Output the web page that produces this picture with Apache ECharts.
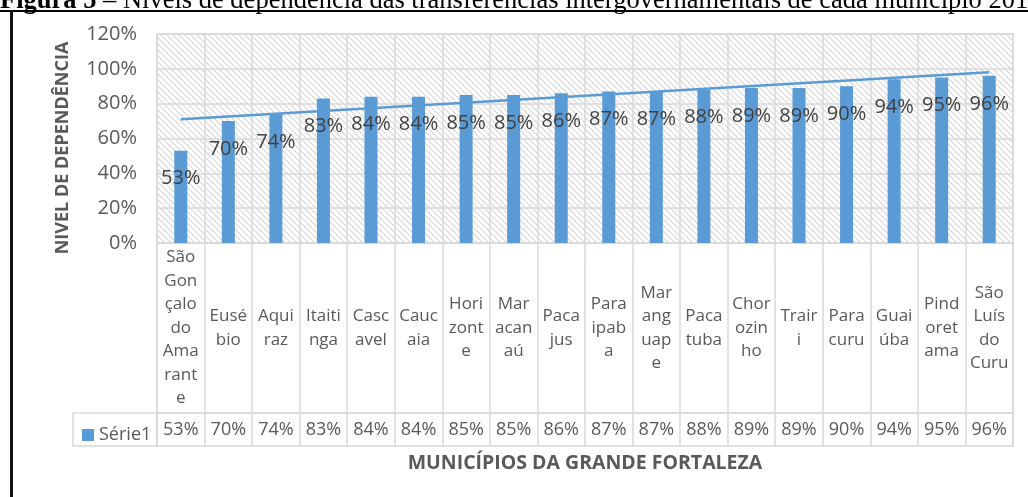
<!DOCTYPE html>
<html lang="pt-BR" style="height: 100%">

<head>
  <meta charset="utf-8">
</head>

<body style="height: 100%; margin: 0; background: #fff">
  <div id="container" style="width: 1028px; height: 497px"></div>

  <script type="text/javascript" src="https://cdn.jsdelivr.net/npm/echarts@6/dist/echarts.min.js"></script>

  <script type="text/javascript">
    // municípios (rótulos já quebrados como na tabela do Excel)
    var municipios = [
      'São\nGon\nçalo\ndo\nAma\nrant\ne', 'Eusé\nbio', 'Aqui\nraz', 'Itaiti\nnga', 'Casc\navel',
      'Cauc\naia', 'Hori\nzont\ne', 'Mar\nacan\naú', 'Paca\njus', 'Para\nipab\na',
      'Mar\nang\nuap\ne', 'Paca\ntuba', 'Chor\nozin\nho', 'Trair\ni', 'Para\ncuru',
      'Guai\núba', 'Pind\noret\nama', 'São\nLuís\ndo\nCuru'
    ];
    // nível de dependência (%)
    var serie1 = [53, 70, 74, 83, 84, 84, 85, 85, 86, 87, 87, 88, 89, 89, 90, 94, 95, 96];
    // linha de tendência (início e fim)
    var tendencia = [71, null, null, null, null, null, null, null, null, null, null, null, null, null, null, null, null, 98];
    var yTicks = [0, 20, 40, 60, 80, 100, 120];

    var font = '"Open Sans", "Noto Sans", sans-serif';
    var gray = '#595959';
    var lineGray = '#d9d9d9';

    // textura listrada do fundo
    var tile = document.createElement('canvas');
    tile.width = 6;
    tile.height = 6;
    var ctx = tile.getContext('2d');
    ctx.fillStyle = '#ffffff';
    ctx.fillRect(0, 0, 6, 6);
    ctx.strokeStyle = '#d6d6d6';
    ctx.lineWidth = 1.2;
    [-6, 0, 6].forEach(function (k) {
      ctx.beginPath();
      ctx.moveTo(k, 0);
      ctx.lineTo(k + 6, 6);
      ctx.stroke();
    });

    var dom = document.getElementById('container');
    var myChart = echarts.init(dom, null, { renderer: 'canvas' });

    var L = 157, R = 15;

    var option = {
      animation: false,
      textStyle: { fontFamily: font },
      graphic: [
        {
          type: 'text', left: 0, top: -12,
          style: {
            text: '{b|Figura 5} – Níveis de dependência das transferências intergovernamentais de cada município 2016',
            font: '26.5px "Liberation Serif", serif', fill: '#000',
            rich: { b: { font: 'bold 26.5px "Liberation Serif", serif', fill: '#000' } }
          }
        },
        { type: 'rect', shape: { x: 0, y: 10, width: 1028, height: 2 }, style: { fill: '#000' } },
        { type: 'rect', shape: { x: 10, y: 10, width: 3, height: 487 }, style: { fill: '#111' } },
        {
          type: 'text', x: 63, y: 148, rotation: Math.PI / 2,
          style: {
            text: 'NIVEL DE DEPENDÊNCIA', align: 'center', verticalAlign: 'middle',
            font: 'bold 18px "Open Sans", sans-serif', fill: gray
          }
        }
      ],
      legend: {
        data: ['Série1'],
        left: 77, top: 421,
        icon: 'rect', itemWidth: 12, itemHeight: 12, itemGap: 4,
        textStyle: { fontSize: 18, color: gray, fontFamily: font }
      },
      grid: [
        { left: L, right: R, top: 34, height: 209, show: true, borderColor: lineGray, borderWidth: 1.5,
          backgroundColor: { image: tile, repeat: 'repeat' } },
        { left: L, right: R, top: 243, height: 170, show: true, borderColor: lineGray, borderWidth: 1.5 },
        { left: L, right: R, top: 413, height: 33, show: true, borderColor: lineGray, borderWidth: 1.5 },
        { left: 73, width: 84, top: 413, height: 33, show: true, borderColor: lineGray, borderWidth: 1.5 }
      ],
      xAxis: [
        {
          gridIndex: 0, type: 'category', data: municipios,
          axisLine: { show: true, lineStyle: { color: lineGray, width: 1.5 } },
          axisTick: { show: false }, axisLabel: { show: false },
          splitLine: { show: true, lineStyle: { color: lineGray, width: 1.5 } }
        },
        {
          gridIndex: 1, type: 'category', data: municipios,
          axisLine: { show: false }, axisTick: { show: false },
          axisLabel: {
            interval: 0, margin: -85, verticalAlign: 'middle', align: 'center',
            fontSize: 17, lineHeight: 23.5, color: gray, fontFamily: font
          },
          splitLine: { show: true, lineStyle: { color: lineGray, width: 1.5 } }
        },
        {
          gridIndex: 2, type: 'category', data: municipios,
          axisLine: { show: false }, axisTick: { show: false },
          axisLabel: {
            interval: 0, margin: -16.5, verticalAlign: 'middle', align: 'center',
            fontSize: 18, color: gray, fontFamily: font,
            formatter: function (v, i) { return serie1[i] + '%'; }
          },
          splitLine: { show: true, lineStyle: { color: lineGray, width: 1.5 } },
          name: 'MUNICÍPIOS DA GRANDE FORTALEZA', nameLocation: 'middle', nameGap: 7,
          nameTextStyle: { fontSize: 19.5, fontWeight: 'bold', color: gray, fontFamily: font, verticalAlign: 'top' }
        },
        { gridIndex: 3, type: 'category', data: [''], show: false }
      ],
      yAxis: [
        {
          gridIndex: 0, type: 'value', min: yTicks[0], max: yTicks[yTicks.length - 1], interval: 20,
          axisLine: { show: false }, axisTick: { show: false },
          axisLabel: { formatter: '{value}%', fontSize: 20, color: gray, margin: 20, fontFamily: font },
          splitLine: { show: true, lineStyle: { color: lineGray, width: 1.5 } }
        },
        { gridIndex: 1, type: 'value', show: false },
        { gridIndex: 2, type: 'value', show: false },
        { gridIndex: 3, type: 'value', show: false }
      ],
      series: [
        {
          name: 'Série1', type: 'bar', xAxisIndex: 0, yAxisIndex: 0,
          data: serie1, barWidth: 13,
          itemStyle: { color: '#5b9bd5' },
          label: {
            show: true, position: 'insideTop', distance: 18,
            formatter: '{c}%', fontSize: 20, color: '#404040', fontFamily: font
          }
        },
        {
          name: 'Tendência', type: 'line', xAxisIndex: 0, yAxisIndex: 0,
          data: tendencia, connectNulls: true, symbol: 'none',
          lineStyle: { color: '#5b9bd5', width: 2.5 }
        }
      ]
    };

    myChart.setOption(option);
    window.addEventListener('resize', myChart.resize);
  </script>
</body>

</html>
